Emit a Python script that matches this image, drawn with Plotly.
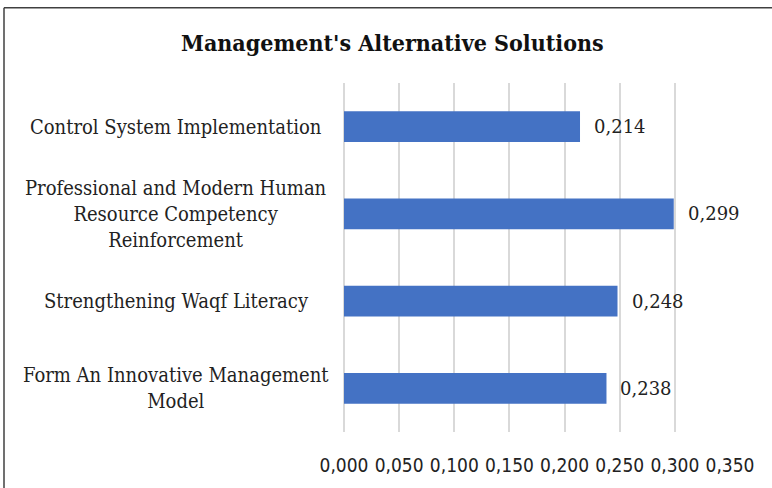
import plotly.graph_objects as go

categories = ["Control System Implementation",
              "Professional and Modern Human<br>Resource Competency<br>Reinforcement",
              "Strengthening Waqf Literacy",
              "Form An Innovative Management<br>Model"]
values = [0.214, 0.299, 0.248, 0.238]
tick_vals = [0.0, 0.05, 0.10, 0.15, 0.20, 0.25, 0.30, 0.35]
title_text = "Management's Alternative Solutions"

W, H = 772, 488
L, R, T, B = 344, 42, 83, 53
pw, ph = W - L - R, H - T - B

fig = go.Figure()
fig.add_trace(go.Bar(
    x=values, y=categories, orientation="h",
    marker=dict(color="#4472C4", line=dict(width=0)),
    width=0.35, hoverinfo="skip",
))

annotations = []
for c, v in zip(categories, values):
    annotations.append(dict(
        x=v, y=c, xref="x", yref="y", text=f"{v:.3f}".replace(".", ","),
        showarrow=False, xanchor="left", xshift=12,
        font=dict(family="DejaVu Serif", size=18, color="#222222"),
    ))
    annotations.append(dict(
        x=(176 - L) / pw, y=c, xref="paper", yref="y", text=c,
        showarrow=False, xanchor="center", align="center",
        font=dict(family="DejaVu Serif Condensed", size=20, color="#222222"),
    ))

annotations.append(dict(
    x=(392 - L) / pw, y=1 + (T - 42) / ph, xref="paper", yref="paper",
    text=f"<b>{title_text}</b>",
    showarrow=False, xanchor="center", yanchor="middle",
    font=dict(family="DejaVu Serif Condensed", size=23, color="#111111"),
))

bx0 = (4 - L) / pw
by1 = 1 + (T - 7) / ph
shapes = [
    dict(type="line", xref="paper", yref="paper", x0=bx0, x1=bx0, y0=by1, y1=-0.3,
         line=dict(color="#404040", width=1.5)),
    dict(type="line", xref="paper", yref="paper", x0=bx0, x1=1.3, y0=by1, y1=by1,
         line=dict(color="#404040", width=1.5)),
]

fig.update_layout(
    width=W, height=H,
    margin=dict(l=L, r=R, t=T, b=B),
    paper_bgcolor="white", plot_bgcolor="white",
    showlegend=False,
    separators=",.",
    annotations=annotations,
    shapes=shapes,
    bargap=0.65,
    xaxis=dict(range=[0, 0.35], tickvals=tick_vals, tickformat=".3f",
               showgrid=True, gridcolor="#D9D9D9", gridwidth=1.5,
               zeroline=True, zerolinecolor="#D9D9D9", zerolinewidth=1.5,
               showline=False, ticks="", ticklabelstandoff=20,
               tickfont=dict(family="DejaVu Sans Condensed", size=19, color="#222222"),
               fixedrange=True),
    yaxis=dict(categoryorder="array", categoryarray=categories, autorange="reversed",
               showticklabels=False, showgrid=False, zeroline=False, showline=False,
               ticks="", fixedrange=True),
)

fig.write_html("out.html", config={"displayModeBar": False},
               post_script="document.body.style.margin='0';document.body.style.overflow='hidden';")
